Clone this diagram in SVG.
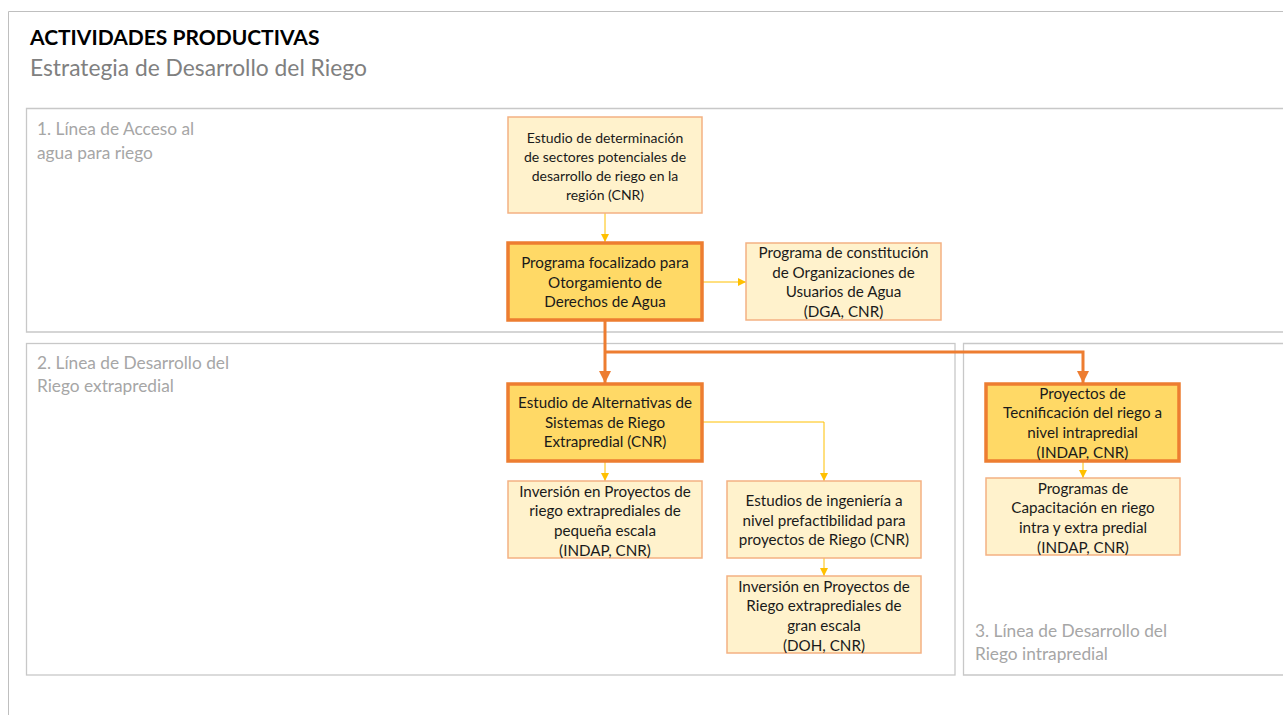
<svg xmlns="http://www.w3.org/2000/svg" width="1283" height="715" viewBox="0 0 1283 715">
<defs>
<style>
.frame{fill:none;stroke:#BFBFBF;stroke-width:1}
.lane{fill:none;stroke:#C8C8C8;stroke-width:1.3}
.lanelbl{font-family:Lato,"Open Sans",sans-serif;font-size:17.3px;fill:#A6A6A6}
.title{font-family:Lato,"Open Sans",sans-serif;font-size:21px;font-weight:bold;fill:#000}
.sub{font-family:Lato,"Open Sans",sans-serif;font-size:22.8px;fill:#808080}
.n{fill:#FFF2CC;stroke:#F4B183;stroke-width:1.5}
.k{fill:#FFD966;stroke:#ED7D31;stroke-width:3.5}
.t{font-family:Lato,"Open Sans",sans-serif;font-size:15.2px;fill:#1a1a1a;text-anchor:middle}
.s{font-size:14px}
.cy{fill:none;stroke:#FFC000;stroke-width:1}
.co{fill:none;stroke:#ED7D31;stroke-width:3}
</style>
<marker id="ay" viewBox="0 0 10 10" refX="10" refY="5" markerWidth="8" markerHeight="8" markerUnits="userSpaceOnUse" orient="auto"><path d="M0,0 L10,5 L0,10 z" fill="#FFC000"/></marker>
<marker id="ao" viewBox="0 0 10 10" refX="10" refY="5" markerWidth="4" markerHeight="4" orient="auto"><path d="M0,0 L10,5 L0,10 z" fill="#ED7D31"/></marker>
</defs>
<rect width="1283" height="715" fill="#fff"/>
<path class="frame" d="M8.5,715 L8.5,11.5 L1283,11.5"/>
<text class="title" x="30" y="45">ACTIVIDADES PRODUCTIVAS</text>
<text class="sub" x="30" y="76">Estrategia de Desarrollo del Riego</text>

<g id="lane1"><path class="lane" d="M1284,108.5 L26.5,108.5 L26.5,332 L1284,332"/>
<text class="lanelbl" x="37" y="135">1. Línea de Acceso al</text>
<text class="lanelbl" x="37" y="159">agua para riego</text></g>
<g id="lane2"><rect class="lane" x="26.5" y="343.5" width="928.5" height="331.5"/>
<text class="lanelbl" x="37" y="369">2. Línea de Desarrollo del</text>
<text class="lanelbl" x="37" y="392">Riego extrapredial</text></g>
<g id="lane3"><path class="lane" d="M1284,343.5 L963.5,343.5 L963.5,675 L1284,675"/>
<text class="lanelbl" x="975" y="637">3. Línea de Desarrollo del</text>
<text class="lanelbl" x="975" y="660">Riego intrapredial</text></g>

<g id="connectors">
<path class="cy" d="M605,213 V242" marker-end="url(#ay)"/>
<path class="cy" d="M703,282 H746" marker-end="url(#ay)"/>
<path class="co" d="M605,320 V383" marker-end="url(#ao)"/>
<path class="co" d="M605,352 H1083 V383" marker-end="url(#ao)"/>
<path class="cy" d="M605,462 V481" marker-end="url(#ay)"/>
<path class="cy" d="M703,422 H824 V481" marker-end="url(#ay)"/>
<path class="cy" d="M824,558 V576" marker-end="url(#ay)"/>
<path class="cy" d="M1083,462 V478" marker-end="url(#ay)"/>
</g>

<g id="n1"><rect class="n" x="508" y="117" width="194" height="96"/>
<text class="t s" x="605" y="143">Estudio de determinación</text>
<text class="t s" x="605" y="162">de sectores potenciales de</text>
<text class="t s" x="605" y="181">desarrollo de riego en la</text>
<text class="t s" x="605" y="200">región (CNR)</text></g>

<g id="n2"><rect class="k" x="508" y="243" width="194" height="77"/>
<text class="t" x="605" y="268">Programa focalizado para</text>
<text class="t" x="605" y="288">Otorgamiento de</text>
<text class="t" x="605" y="307">Derechos de Agua</text></g>

<g id="n3"><rect class="n" x="746" y="243" width="195" height="77"/>
<text class="t" x="843.5" y="258">Programa de constitución</text>
<text class="t" x="843.5" y="278">de Organizaciones de</text>
<text class="t" x="843.5" y="297">Usuarios de Agua</text>
<text class="t" x="843.5" y="317">(DGA, CNR)</text></g>

<g id="n4"><rect class="k" x="508" y="384" width="194" height="77"/>
<text class="t" x="605" y="408">Estudio de Alternativas de</text>
<text class="t" x="605" y="428">Sistemas de Riego</text>
<text class="t" x="605" y="447">Extrapredial (CNR)</text></g>

<g id="n5"><rect class="n" x="508" y="481" width="194" height="77"/>
<text class="t" x="605" y="497">Inversión en Proyectos de</text>
<text class="t" x="605" y="516">riego extraprediales de</text>
<text class="t" x="605" y="536">pequeña escala</text>
<text class="t" x="605" y="556">(INDAP, CNR)</text></g>

<g id="n6"><rect class="n" x="727" y="481" width="194" height="77"/>
<text class="t" x="824" y="506">Estudios de ingeniería a</text>
<text class="t" x="824" y="526">nivel prefactibilidad para</text>
<text class="t" x="824" y="545">proyectos de Riego (CNR)</text></g>

<g id="n7"><rect class="n" x="727" y="576" width="194" height="77"/>
<text class="t" x="824" y="592">Inversión en Proyectos de</text>
<text class="t" x="824" y="611">Riego extraprediales de</text>
<text class="t" x="824" y="631">gran escala</text>
<text class="t" x="824" y="651">(DOH, CNR)</text></g>

<g id="n8"><rect class="k" x="986" y="384" width="193" height="77"/>
<text class="t" x="1082.5" y="399">Proyectos de</text>
<text class="t" x="1082.5" y="418">Tecnificación del riego a</text>
<text class="t" x="1082.5" y="438">nivel intrapredial</text>
<text class="t" x="1082.5" y="458">(INDAP, CNR)</text></g>

<g id="n9"><rect class="n" x="986" y="478" width="194" height="77"/>
<text class="t" x="1083" y="494">Programas de</text>
<text class="t" x="1083" y="513">Capacitación en riego</text>
<text class="t" x="1083" y="533">intra y extra predial</text>
<text class="t" x="1083" y="553">(INDAP, CNR)</text></g>
</svg>
